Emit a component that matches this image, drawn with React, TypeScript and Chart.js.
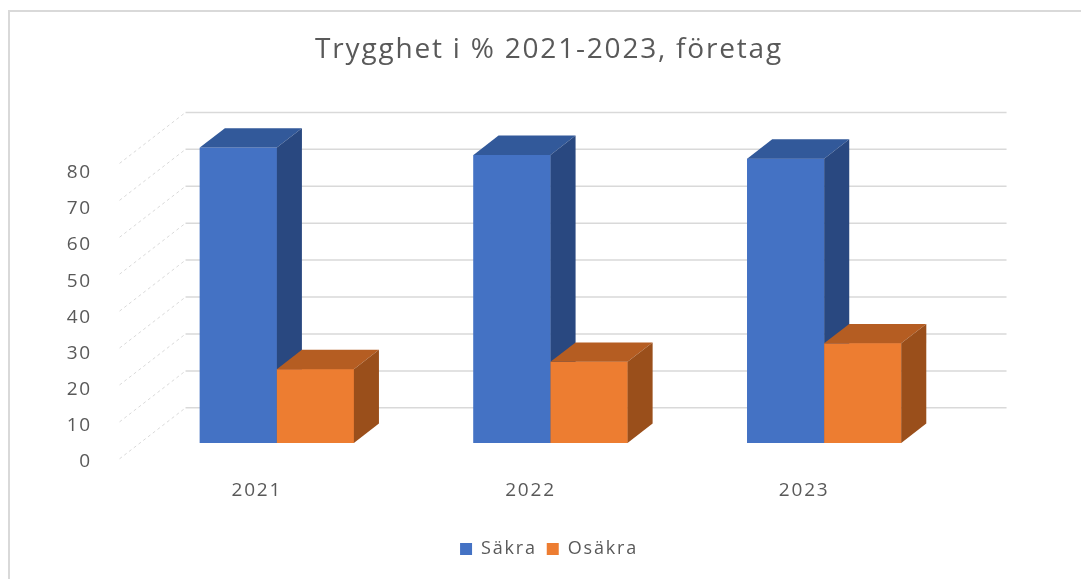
import React, { useEffect, useRef } from "react";
import { Chart, registerables } from "chart.js";

Chart.register(...registerables);

// ---- data ----
const categories = ["2021", "2022", "2023"];
const seriesNames = ["Säkra", "Osäkra"];
const safeValues = [80, 78, 77];
const unsafeValues = [20, 22, 27];
const yTickStep = 10;
const yMax = 80;
const titleText = "Trygghet i % 2021-2023, företag";

// ---- style ----
const FONT = "'Open Sans', 'Liberation Sans', sans-serif";
const TEXT = "#595959";
const GRID = "#d9d9d9";
const FRONT = ["#4472C4", "#ED7D31"];
const TOP = ["#32599A", "#B55D22"];
const SIDE = ["#294880", "#9A4F1B"];
// 3D projection: full depth vector, plane of the bars' front faces, bar depth
const DEPTH_X = 66;
const DEPTH_Y = -51;
const FRONT_T = 0.31;
const BAR_T = 0.38;
// label axis is the front edge of the side wall (slight perspective vs. bar plane)
const LABEL_AXIS_MAX = yMax * 296 / 290;

const setSpacing = (chart: any) => {
  try { chart.ctx.letterSpacing = "1.8px"; } catch (e) { /* ignore */ }
};

const threeD = {
  id: "threeD",
  beforeLayout(chart: any) { setSpacing(chart); },
  beforeDraw(chart: any) {
    setSpacing(chart);
    const { ctx } = chart;
    ctx.save();
    ctx.strokeStyle = "#d9d9d9";
    ctx.lineWidth = 2;
    ctx.strokeRect(9, 11, 1300, 900);
    ctx.restore();
  },
  beforeDatasetsDraw(chart: any) {
    const { ctx, chartArea, scales } = chart;
    const y = scales.y;
    const bdx = (1 - FRONT_T) * DEPTH_X;
    const bdy = (1 - FRONT_T) * DEPTH_Y;
    const fdx = -FRONT_T * DEPTH_X;
    const fdy = -FRONT_T * DEPTH_Y;
    ctx.save();
    for (const t of y.ticks) {
      const py = y.getPixelForValue(t.value);
      ctx.strokeStyle = GRID;
      ctx.lineWidth = 1.5;
      ctx.setLineDash([]);
      ctx.beginPath();
      ctx.moveTo(chartArea.left + bdx, py + bdy);
      ctx.lineTo(chartArea.right + bdx, py + bdy);
      ctx.stroke();
      ctx.lineWidth = 1;
      ctx.setLineDash([3, 3]);
      ctx.beginPath();
      ctx.moveTo(chartArea.left + fdx, py + fdy);
      ctx.lineTo(chartArea.left + bdx, py + bdy);
      ctx.stroke();
    }
    ctx.restore();
  },
  afterDatasetsDraw(chart: any) {
    const { ctx } = chart;
    const dx = BAR_T * DEPTH_X;
    const dy = BAR_T * DEPTH_Y;
    const n = chart.data.labels.length;
    ctx.save();
    for (let i = 0; i < n; i++) {
      for (let d = 0; d < chart.data.datasets.length; d++) {
        const el = chart.getDatasetMeta(d).data[i];
        if (!el) continue;
        const { x, y, base, width } = el.getProps(["x", "y", "base", "width"], true);
        const l = x - width / 2;
        const r = x + width / 2;
        ctx.fillStyle = FRONT[d];
        ctx.fillRect(l, y, width, base - y);
        ctx.fillStyle = TOP[d];
        ctx.beginPath();
        ctx.moveTo(l, y);
        ctx.lineTo(l + dx, y + dy);
        ctx.lineTo(r + dx, y + dy);
        ctx.lineTo(r, y);
        ctx.closePath();
        ctx.fill();
        ctx.fillStyle = SIDE[d];
        ctx.beginPath();
        ctx.moveTo(r, y);
        ctx.lineTo(r + dx, y + dy);
        ctx.lineTo(r + dx, base + dy);
        ctx.lineTo(r, base);
        ctx.closePath();
        ctx.fill();
      }
    }
    ctx.restore();
  },
};

export default function App() {
  const ref = useRef<HTMLCanvasElement | null>(null);
  useEffect(() => {
    if (!ref.current) return;
    const chart = new Chart(ref.current, {
      type: "bar",
      data: {
        labels: categories,
        datasets: [
          { label: seriesNames[0], data: safeValues, backgroundColor: FRONT[0], borderWidth: 0, yAxisID: "y" },
          { label: seriesNames[1], data: unsafeValues, backgroundColor: FRONT[1], borderWidth: 0, yAxisID: "y" },
        ],
      },
      options: {
        animation: false,
        responsive: true,
        maintainAspectRatio: false,
        layout: { padding: { left: 17, right: 0, top: 0, bottom: 11 } },
        datasets: { bar: { categoryPercentage: 0.563, barPercentage: 1 } },
        scales: {
          x: {
            grid: { display: false },
            border: { display: false },
            ticks: { color: TEXT, font: { family: FONT, size: 19 }, padding: 28, labelOffset: -20, maxRotation: 0 },
            afterFit: (s: any) => { s.height = 87; },
          },
          y: {
            display: false,
            min: 0,
            max: yMax,
            ticks: { stepSize: yTickStep },
          },
          yl: {
            position: "left",
            min: 0,
            max: LABEL_AXIS_MAX,
            grid: { display: false },
            border: { display: false },
            ticks: { stepSize: yTickStep, includeBounds: false, color: TEXT, font: { family: FONT, size: 19 }, padding: 40, labelOffset: 19 },
            afterFit: (s: any) => { s.width = 123; },
          },
          yr: {
            position: "right",
            min: 0,
            max: yMax,
            grid: { display: false },
            border: { display: false },
            ticks: { display: false },
            afterFit: (s: any) => { s.width = 120; },
          },
        },
        plugins: {
          title: {
            display: true,
            text: titleText,
            color: TEXT,
            font: { family: FONT, size: 28, weight: "normal" },
            padding: { top: 33, bottom: 81 },
          },
          legend: {
            position: "bottom",
            labels: { color: TEXT, font: { family: FONT, size: 18 }, boxWidth: 12, boxHeight: 12, padding: 10 },
          },
          tooltip: { enabled: false },
        },
      },
      plugins: [threeD],
    });
    return () => chart.destroy();
  }, []);
  return (
    <div style={{ position: "fixed", left: 0, top: 0, width: 1081, height: 579, background: "#fff" }}>
      <canvas ref={ref} />
    </div>
  );
}
